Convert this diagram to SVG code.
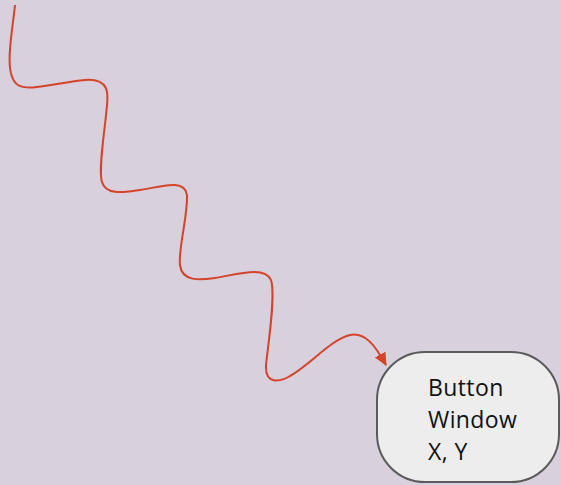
<svg xmlns="http://www.w3.org/2000/svg" width="561" height="485" viewBox="0 0 561 485">
<style>
.edge{fill:none;stroke:#d5432a;stroke-width:2}
.node{fill:#ededed;stroke:#5a5a5a;stroke-width:2}
.lbl{font-family:"Open Sans","Noto Sans",sans-serif;font-size:23px;letter-spacing:0.4px;fill:#111}
</style>
<defs>
<marker id="ah" markerWidth="14" markerHeight="12" refX="12" refY="6" orient="auto" markerUnits="userSpaceOnUse">
<path d="M0,0 L13,6 L0,12 z" fill="#d5432a"/>
</marker>
</defs>
<rect width="561" height="485" fill="#d8d0dc"/>
<g id="connectors">
<path class="edge" marker-end="url(#ah)" d="M15,5 C12,35 3,75 18,85 C30,92 60,82 85,80 C110,78 108,95 107,105 C105,130 98,170 102,182 C106,196 125,192 140,190 C160,187 185,178 187,195 C188,215 178,250 180,265 C182,282 200,280 215,278 C235,275 265,265 271,280 C276,295 268,345 266,365 C265,385 280,382 290,376 C310,365 330,340 350,335 C365,332 375,345 386,365"/>
</g>
<g id="node-button">
<rect class="node" x="377" y="352" width="182" height="130" rx="48" ry="48"/>
<text class="lbl" x="428" y="396">Button</text>
<text class="lbl" x="428" y="428">Window</text>
<text class="lbl" x="428" y="460">X, Y</text>
</g>
</svg>
